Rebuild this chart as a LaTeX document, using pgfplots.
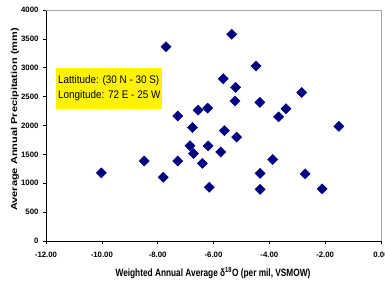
\documentclass[border=0pt]{standalone}
\usepackage{pgfplots}
\pgfplotsset{compat=1.18}
\usepackage{fontspec}
\setmainfont{Liberation Sans}
\definecolor{navy}{RGB}{0,0,128}
\begin{document}
\begin{tikzpicture}
\begin{axis}[
  scale only axis,
  width=335pt, height=231pt,
  xmin=-12, xmax=0, ymin=0, ymax=4000,
  axis x line*=bottom, axis y line*=left,
  axis line style={black, line width=0.8pt},
  tick align=outside, major tick length=3pt,
  tick style={black, line width=0.6pt},
  xtick={-12,-10,-8,-6,-4,-2,0},
  xticklabels={-12.00,-10.00,-8.00,-6.00,-4.00,-2.00,0.00},
  ytick={0,500,1000,1500,2000,2500,3000,3500,4000},
  yticklabels={0,500,1000,1500,2000,2500,3000,3500,4000},
  tick label style={font=\bfseries\fontsize{7.8}{9}\selectfont},
  xticklabel style={anchor=center, yshift=-11pt},
  yticklabel style={anchor=east, xshift=-1pt},
  xlabel={\scalebox{0.79}[1]{\bfseries\fontsize{10.5}{12}\selectfont Weighted Annual Average δ\textsuperscript{18}O (per mil, VSMOW)}},
  ylabel={\scalebox{1}[0.78]{\bfseries\fontsize{11}{13}\selectfont Average Annual Precipitation (mm)}},
  xlabel style={at={(axis description cs:0.4985,-0.1385)}, anchor=center},
  ylabel style={at={(axis description cs:-0.0925,0.526)}, anchor=center},
  clip=false,
]
\draw[gray!70, line width=0.8pt] (rel axis cs:0,1) -- (rel axis cs:1,1) -- (rel axis cs:1,0);
\addplot[only marks, mark=square*, mark size=3.6pt, mark options={rotate=45, fill=navy, draw=navy}] coordinates {
(-10.02,1180) (-8.48,1385) (-7.80,1105) (-7.70,3365) (-7.28,2165) (-7.28,1385)
(-6.84,1650) (-6.75,1965) (-6.72,1515) (-6.55,2265) (-6.40,1345) (-6.21,2300)
(-6.19,1647) (-6.15,930) (-5.74,1540) (-5.65,2810) (-5.61,1910) (-5.35,3580)
(-5.21,2660) (-5.23,2425) (-5.17,1800) (-4.48,3030) (-4.34,2400) (-4.33,1172)
(-4.33,895) (-3.88,1412) (-3.67,2150) (-3.40,2290) (-2.84,2573) (-2.72,1163)
(-2.11,902) (-1.51,1985)
};
\node[fill=yellow, inner sep=0pt, minimum width=106pt, minimum height=41pt, anchor=north west] at (axis cs:-11.64,2995) {};
\node[anchor=west, align=left, inner sep=0pt, font=\fontsize{11}{15}\selectfont] at (axis cs:-11.57,2640) {\scalebox{0.9}[1]{Lattitude: (30 N - 30 S)}\\\scalebox{0.9}[1]{Longitude: 72 E - 25 W}};
\end{axis}
\pgfresetboundingbox
\path[use as bounding box] (-46pt,-43pt) rectangle (339pt,241pt);
\end{tikzpicture}
\end{document}
